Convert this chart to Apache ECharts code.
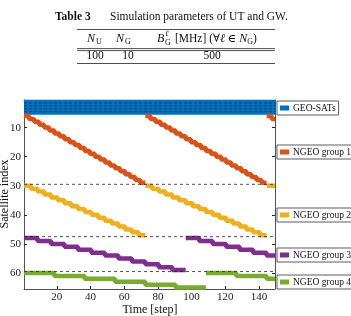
<!DOCTYPE html>
<html><head><meta charset="utf-8">
<script src="https://cdn.jsdelivr.net/npm/echarts@6/dist/echarts.min.js"></script>
<style>html,body{margin:0;padding:0;background:#fff}#c{width:351px;height:316px}</style>
</head><body><div id="c"></div>
<script>
// ---- data ----
var xTicks = [20, 40, 60, 80, 100, 120, 140];
var yTicks = [10, 20, 30, 40, 50, 60];
var geoRows = [1, 2, 3, 4, 5];
var geoDashRows = [1.5, 2.5, 3.5, 4.5];
var boundaryRows = [29.5, 47.5, 59.5];
// change points [time, satellite index] (step begins at time)
var g1w1 = [[0.5,6],[3.5,7],[6.5,8],[9.5,9],[12.5,10],[15.5,11],[18.5,12],[21.5,13],[24.5,14],[27.5,15],[30.5,16],[33.5,17],[36.5,18],[39.5,19],[42.5,20],[45.5,21],[48.5,22],[51.5,23],[54.5,24],[57.5,25],[60.5,26],[63.5,27],[66.5,28],[69.5,29],[72.5,29]];
var g1w2 = [[72.5,6],[75.5,7],[78.5,8],[81.5,9],[84.5,10],[87.5,11],[90.5,12],[93.5,13],[96.5,14],[99.5,15],[102.5,16],[105.5,17],[108.5,18],[111.5,19],[114.5,20],[117.5,21],[120.5,22],[123.5,23],[126.5,24],[129.5,25],[132.5,26],[135.5,27],[138.5,28],[141.5,29],[144.5,29]];
var g1w3 = [[144.5,6],[147.5,7],[149.5,7]];
var g2w1 = [[0.5,30],[4.5,31],[8.5,32],[12.5,33],[16.5,34],[20.5,35],[24.5,36],[28.5,37],[32.5,38],[36.5,39],[40.5,40],[44.5,41],[48.5,42],[52.5,43],[56.5,44],[60.5,45],[64.5,46],[68.5,47],[72.5,47]];
var g2w2 = [[72.5,30],[76.5,31],[80.5,32],[84.5,33],[88.5,34],[92.5,35],[96.5,36],[100.5,37],[104.5,38],[108.5,39],[112.5,40],[116.5,41],[120.5,42],[124.5,43],[128.5,44],[132.5,45],[136.5,46],[140.5,47],[144.5,47]];
var g2w3 = [[144.5,30],[149.5,30]];
var g3w1 = [[0.5,48],[8.5,49],[16.5,50],[24.5,51],[32.5,52],[40.5,53],[48.5,54],[56.5,55],[64.5,56],[72.5,57],[80.5,58],[88.5,59],[96.5,59]];
var g3w2 = [[96.5,48],[104.5,49],[112.5,50],[120.5,51],[128.5,52],[136.5,53],[144.5,54],[149.5,54]];
var g4w1 = [[0.5,60],[18.5,61],[36.5,62],[54.5,63],[72.5,64],[90.5,65],[108.5,65]];
var g4w2 = [[108.5,60],[126.5,61],[144.5,62],[149.5,62]];
var names = ['GEO-SATs', 'NGEO group 1', 'NGEO group 2', 'NGEO group 3', 'NGEO group 4'];
var colors = ['#0072BD', '#D95319', '#EDB120', '#7E2F8E', '#77AC30'];
var tMin = 0.5, tMax = 149.5;

// ---- chart ----
var SERIF = '"Liberation Serif", "DejaVu Serif", serif';
var AX = '#262626';
var series = [];
geoRows.forEach(function (r) {
  series.push({ name: names[0], type: 'line', data: [[tMin, r], [tMax, r]], symbol: 'none',
    lineStyle: { color: colors[0], width: 3.4 }, itemStyle: { color: colors[0] }, z: 2, silent: true });
});
function grp(i, data) {
  series.push({ name: names[i], type: 'line', step: 'end', data: data, symbol: 'none',
    lineStyle: { color: colors[i], width: 4.5 }, itemStyle: { color: colors[i] }, z: 3, silent: true });
}
grp(1, g1w1); grp(1, g1w2); grp(1, g1w3);
grp(2, g2w1); grp(2, g2w2); grp(2, g2w3);
grp(3, g3w1); grp(3, g3w2);
grp(4, g4w1); grp(4, g4w2);
boundaryRows.forEach(function (r) {
  series.push({ type: 'line', data: [[tMin, r], [tMax, r]], symbol: 'none',
    lineStyle: { color: '#222', width: 0.8, type: [3, 3] }, z: 5, silent: true });
});
geoDashRows.forEach(function (r) {
  series.push({ type: 'line', data: [[tMin, r], [tMax, r]], symbol: 'none',
    lineStyle: { color: '#0a1a3a', width: 0.8, type: [3, 2], opacity: 0.7 }, z: 5, silent: true });
});

var legendTops = [101, 145, 208, 248, 275];
var legends = names.map(function (n, i) {
  return { data: [n], left: 277, top: legendTops[i], orient: 'vertical', icon: 'rect',
    itemWidth: 9, itemHeight: 5, padding: [2, 3, 2, 3], itemGap: 0,
    borderColor: '#333', borderWidth: 0.8, backgroundColor: '#fff', selectedMode: false,
    textStyle: { fontFamily: SERIF, fontSize: 9.5, color: '#111', padding: [0, 0, 0, -1] } };
});

function txt(x, y, s, opt) {
  var st = { text: s, x: x, y: y, font: (opt && opt.font) || ('11.5px ' + SERIF), fill: (opt && opt.fill) || '#111',
    textAlign: (opt && opt.align) || 'left', textVerticalAlign: 'middle' };
  if (opt && opt.rich) st.rich = opt.rich;
  return { type: 'text', style: st, silent: true };
}
function hline(x1, x2, y, w) {
  return { type: 'line', shape: { x1: x1, y1: y, x2: x2, y2: y }, style: { stroke: '#222', lineWidth: w || 0.8 }, silent: true };
}
var I = 'italic 12px ' + SERIF, S = '8px ' + SERIF, N = '11.5px ' + SERIF;
var richHdr = {
  i: { fontFamily: SERIF, fontStyle: 'italic', fontSize: 12, color: '#111' },
  s: { fontFamily: SERIF, fontSize: 8, color: '#111', padding: [7, 0, 0, 0] }
};
var graphics = [
  txt(55, 17, 'Table 3', { font: 'bold 11.5px ' + SERIF }),
  txt(110, 17, 'Simulation parameters of UT and GW.', { font: N }),
  hline(77, 275, 29.5),
  txt(87, 38.5, 'N', { font: I }), txt(96, 41.5, 'U', { font: S }),
  txt(116, 38.5, 'N', { font: I }), txt(125, 41.5, 'G', { font: S }),
  txt(157, 38.5, 'B', { font: I }), txt(165, 34, 'ℓ', { font: 'italic 8px ' + SERIF }), txt(165, 42.5, 'G', { font: S }),
  txt(175, 38.5, '[MHz] (∀{i|ℓ} ∈ {i|N}{s|G})', { font: N, rich: richHdr }),
  hline(77, 275, 48.6), hline(77, 275, 50.6),
  txt(95, 56, '100', { font: N, align: 'center' }),
  txt(128, 56, '10', { font: N, align: 'center' }),
  txt(212, 56, '500', { font: N, align: 'center' }),
  hline(77, 275, 63.5),
  txt(150, 309.5, 'Time [step]', { font: '12px ' + SERIF, align: 'center' }),
  { type: 'text', x: 5, y: 194, rotation: Math.PI / 2, silent: true,
    style: { text: 'Satellite index', font: '12px ' + SERIF, fill: '#111', textAlign: 'center', textVerticalAlign: 'middle' } }
];

var axisCommon = {
  axisLine: { show: true, lineStyle: { color: AX, width: 0.8 } },
  splitLine: { show: false }
};
var option = {
  animation: false,
  backgroundColor: '#fff',
  grid: { left: 24, right: 76, top: 100, bottom: 27, containLabel: false },
  legend: legends,
  xAxis: [
    Object.assign({ type: 'value', min: tMin, max: tMax, position: 'bottom',
      axisTick: { show: true, inside: true, length: 3, customValues: xTicks, lineStyle: { color: AX } },
      axisLabel: { customValues: xTicks, margin: 3, fontFamily: SERIF, fontSize: 11, color: '#222' } }, axisCommon),
    Object.assign({ type: 'value', min: tMin, max: tMax, position: 'top',
      axisTick: { show: false }, axisLabel: { show: false } }, axisCommon)
  ],
  yAxis: [
    Object.assign({ type: 'value', min: 0.5, max: 65.5, inverse: true, position: 'left',
      axisTick: { show: true, inside: true, length: 3, customValues: yTicks, lineStyle: { color: AX } },
      axisLabel: { customValues: yTicks, margin: 3, fontFamily: SERIF, fontSize: 11, color: '#222' } }, axisCommon),
    Object.assign({ type: 'value', min: 0.5, max: 65.5, inverse: true, position: 'right',
      axisTick: { show: true, inside: true, length: 3, customValues: yTicks, lineStyle: { color: AX } },
      axisLabel: { show: false } }, axisCommon)
  ],
  series: series,
  graphic: graphics
};
var chart = echarts.init(document.getElementById('c'), null, { renderer: 'canvas' });
chart.setOption(option);
</script></body></html>
